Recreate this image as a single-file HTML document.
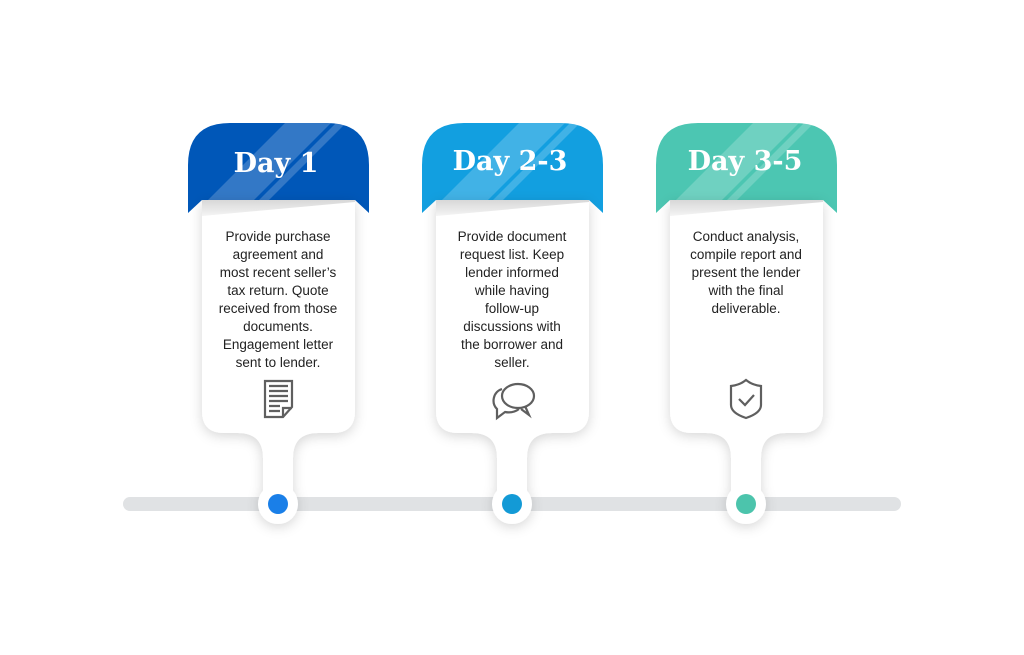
<!DOCTYPE html>
<html><head><meta charset="utf-8"><style>
html,body{margin:0;padding:0;background:#fff;}
svg{display:block}
.t{font-family:"Liberation Sans",sans-serif;font-size:13.5px;fill:#222;text-anchor:middle}
.h{font-family:"DejaVu Serif","Liberation Serif",serif;font-weight:bold;font-size:27px;fill:#fff;text-anchor:middle}
</style></head><body>
<svg width="1024" height="655" viewBox="0 0 1024 655" xmlns="http://www.w3.org/2000/svg">
<defs>
<filter id="sh" x="-30%" y="-30%" width="160%" height="160%"><feDropShadow dx="0" dy="3" stdDeviation="6" flood-color="#000" flood-opacity="0.16"/></filter>
<clipPath id="hc"><path d="M188,213 V165 Q188,123 230,123 H327 Q369,123 369,165 V213 L355,200 H202 Z"/></clipPath>
<linearGradient id="gs" x1="0" y1="0" x2="0" y2="1"><stop offset="0" stop-color="#d8d8d8"/><stop offset="1" stop-color="#f4f4f4"/></linearGradient>
<g id="hdr">
<path d="M188,213 V165 Q188,123 230,123 H327 Q369,123 369,165 V213 L355,200 H202 Z"/>
<g clip-path="url(#hc)" fill="#fff">
<polygon points="285,123 331,123 239,215 193,215" opacity="0.2"/>
<polygon points="336,123 346,123 254,215 244,215" opacity="0.2"/>
</g>
</g>
<g id="body">
<path d="M202,200 H355 V411 Q355,433 333,433 H318 Q293,433 293,458 V490.8 A20,20 0 1 1 263,490.8 V458 Q263,433 238,433 H224 Q202,433 202,411 Z" fill="#fff"/>
</g>
</defs>
<rect x="123" y="497" width="778" height="14" rx="7" fill="#e0e2e4"/>

<use href="#hdr" fill="#0057b8"/>
<use href="#hdr" fill="#129fe0" transform="translate(234,0)"/>
<use href="#hdr" fill="#4cc6b2" transform="translate(468,0)"/>

<g filter="url(#sh)">
<use href="#body"/>
<use href="#body" transform="translate(234,0)"/>
<use href="#body" transform="translate(468,0)"/>
</g>
<polygon points="202,200 355,200 355,202 202,216" fill="url(#gs)"/>
<polygon points="436,200 589,200 589,202 436,216" fill="url(#gs)"/>
<polygon points="670,200 823,200 823,202 670,216" fill="url(#gs)"/>

<circle cx="278" cy="504" r="10" fill="#1a7fe8"/>
<circle cx="512" cy="504" r="10" fill="#139ad6"/>
<circle cx="746" cy="504" r="10" fill="#4cc4ac"/>

<text class="h" x="276" y="172">Day 1</text>
<text class="h" x="510" y="170">Day 2-3</text>
<text class="h" x="745" y="170">Day 3-5</text>

<g class="t">
<text x="278" y="241">Provide purchase</text>
<text x="278" y="259">agreement and</text>
<text x="278" y="277">most recent seller’s</text>
<text x="278" y="295">tax return. Quote</text>
<text x="278" y="313">received from those</text>
<text x="278" y="331">documents.</text>
<text x="278" y="349">Engagement letter</text>
<text x="278" y="367">sent to lender.</text>
</g>
<g class="t">
<text x="512" y="241">Provide document</text>
<text x="512" y="259">request list. Keep</text>
<text x="512" y="277">lender informed</text>
<text x="512" y="295">while having</text>
<text x="512" y="313">follow-up</text>
<text x="512" y="331">discussions with</text>
<text x="512" y="349">the borrower and</text>
<text x="512" y="367">seller.</text>
</g>
<g class="t">
<text x="746" y="241">Conduct analysis,</text>
<text x="746" y="259">compile report and</text>
<text x="746" y="277">present the lender</text>
<text x="746" y="295">with the final</text>
<text x="746" y="313">deliverable.</text>
</g>

<!-- doc icon -->
<g fill="none" stroke="#5f5f5f" stroke-width="2.2">
<path d="M265,381 H292 V407 L283,417 H265 Z"/>
<path d="M283,417 V408 H292"/>
<path d="M269,386 H288 M269,391 H288 M269,396 H288 M269,401 H288 M269,406 H280 M269,411 H280"/>
</g>
<!-- chat icon -->
<g fill="none" stroke="#5f5f5f" stroke-width="2.2">
<path d="M502,389 C493,392 491,403 497,409 L497,418 L505,412 C510,413 515,412 519,409"/>
<ellipse cx="518" cy="396" rx="16" ry="12" fill="#fff"/>
<path d="M525,406 L529,415 L521,409"/>
</g>
<!-- shield icon -->
<g fill="none" stroke="#5f5f5f" stroke-width="2.2">
<path d="M731,386 Q740,385 746,380 Q752,385 761,386 V405 Q761,413 746,418 Q731,413 731,405 Z"/>
<path d="M739,399 L745,405 L754,395"/>
</g>
</svg>
</body></html>
